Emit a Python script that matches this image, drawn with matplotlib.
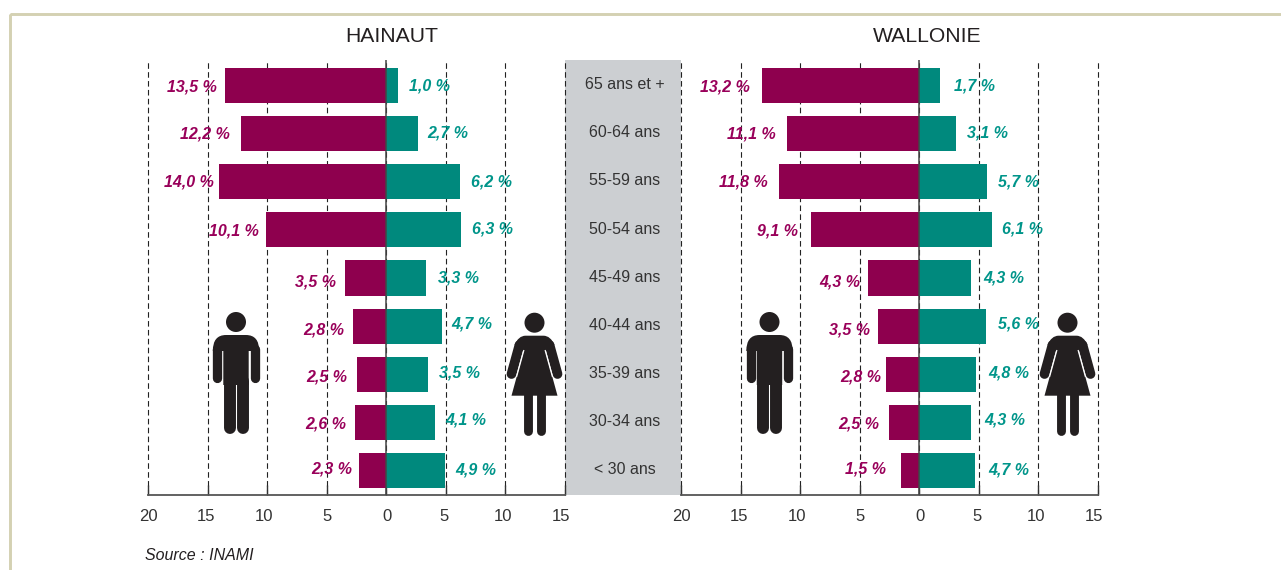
import matplotlib
matplotlib.use("Agg")
import matplotlib.pyplot as plt
from matplotlib.patches import Circle, PathPatch, Polygon, Rectangle
from matplotlib.path import Path
from matplotlib.transforms import ScaledTranslation

plt.rcParams['font.family'] = ['Liberation Sans', 'DejaVu Sans']

W, H = 1281, 570

ages = ["< 30 ans", "30-34 ans", "35-39 ans", "40-44 ans", "45-49 ans",
        "50-54 ans", "55-59 ans", "60-64 ans", "65 ans et +"]

# listed from the bottom bar to the top bar
hainaut_men = [2.3, 2.6, 2.5, 2.8, 3.5, 10.1, 14.0, 12.2, 13.5]
hainaut_women = [4.9, 4.1, 3.5, 4.7, 3.3, 6.3, 6.2, 2.7, 1.0]
wallonie_men = [1.5, 2.5, 2.8, 3.5, 4.3, 9.1, 11.8, 11.1, 13.2]
wallonie_women = [4.7, 4.3, 4.8, 5.6, 4.3, 6.1, 5.7, 3.1, 1.7]

ticks = [-20, -15, -10, -5, 0, 5, 10, 15]
tick_text = ["20", "15", "10", "5", "0", "5", "10", "15"]

# the label placement in the original is by hand, so gaps are per label (px)
hainaut_men_gap = [7, 9, 9, 9, 9, 7, 6, 11, 9]
hainaut_women_gap = [11, 10, 11, 9, 12, 11, 11, 9, 11]
wallonie_men_gap = [15, 10, 5, 8, 8, 13, 11, 11, 12]
wallonie_women_gap = [13, 14, 12, 12, 13, 10, 11, 11, 14]
men_dy = [-1, 2, 3, 4, 4, 1, 0, 0, 1.5]
women_dy = [0, -2, -1, -2, 0, -1, 0, -1, 0]
tick_nudge = [0, -2, -3, 0, 1, -2, -2, -4]

crimson = "#8E004E"
teal = "#00897D"
crimson_text = "#99005A"
teal_text = "#00958A"
dark = "#231F20"


def pixel_axes(left, right, top, bottom):
    return [left / W, 1 - bottom / H, (right - left) / W, (bottom - top) / H]


def draw_man(ax, cx):
    ax.add_patch(Circle((cx, 322), 10, color=dark, lw=0))
    verts = [(-23.2, 351), (-23.2, 335), (-10, 335), (10, 335), (23.2, 335), (23.2, 351),
             (12.7, 351), (12.7, 385), (-12.7, 385), (-12.7, 351), (-23.2, 351)]
    codes = [Path.MOVETO, Path.CURVE3, Path.CURVE3, Path.LINETO, Path.CURVE3, Path.CURVE3,
             Path.LINETO, Path.LINETO, Path.LINETO, Path.LINETO, Path.CLOSEPOLY]
    verts = [(cx + a, b) for a, b in verts]
    ax.add_patch(PathPatch(Path(verts, codes), color=dark, lw=0))
    for a in [-18.6, 18.6]:
        ax.plot([cx + a, cx + a], [349, 378], color=dark, lw=6.7, solid_capstyle='round')
    for a in [-6.5, 6.5]:
        ax.plot([cx + a, cx + a], [381, 428], color=dark, lw=8.6, solid_capstyle='round')


def draw_woman(ax, cx):
    ax.add_patch(Circle((cx, 322.7), 10, color=dark, lw=0))
    verts = [(-20, 345), (-16, 335.7), (-9, 335.7), (9, 335.7), (16, 335.7), (20, 345),
             (10.5, 352), (-10.5, 352), (-20, 345)]
    codes = [Path.MOVETO, Path.CURVE3, Path.CURVE3, Path.LINETO, Path.CURVE3, Path.CURVE3,
             Path.LINETO, Path.LINETO, Path.CLOSEPOLY]
    verts = [(cx + a, b) for a, b in verts]
    ax.add_patch(PathPatch(Path(verts, codes), color=dark, lw=0))
    dress = [(-10.5, 350), (10.5, 350), (23, 395.7), (-23, 395.7)]
    ax.add_patch(Polygon([(cx + a, b) for a, b in dress], color=dark, lw=0))
    for s in [-1, 1]:
        ax.plot([cx + s * 15, cx + s * 23], [345, 374], color=dark, lw=7, solid_capstyle='round')
        ax.plot([cx + s * 10.6, cx + s * 18], [350, 377], color="white", lw=0.9, solid_capstyle='butt')
    for a in [-6.2, 6.2]:
        ax.plot([cx + a, cx + a], [394, 430.5], color=dark, lw=6.4, solid_capstyle='round')


def pyramid(ax, men, women, men_gap, women_gap):
    y = list(range(len(ages)))
    ax.barh(y, [-v for v in men], height=0.73, color=crimson, zorder=2)
    ax.barh(y, women, height=0.73, color=teal, zorder=2)
    ax.axvline(0, color="#444444", lw=1.1, zorder=3)
    ax.set_xlim(-20, 15)
    ax.set_ylim(-0.51, 8.53)
    ax.set_yticks([])
    ax.set_xticks(ticks)
    ax.set_xticklabels(tick_text, fontsize=12, color="#333333")
    ax.grid(axis='x', color="#222222", lw=0.8, ls=(0, (5, 3)), zorder=1)
    for g in ax.get_xgridlines():
        g.set_clip_on(False)
    ax.tick_params(axis='x', direction='in', length=7.5, width=1, color="#333333", pad=10)
    for t, n in zip(ax.get_xticklabels(), tick_nudge):
        t.set_transform(t.get_transform() + ScaledTranslation(n / 100, 0, ax.figure.dpi_scale_trans))
    for s in ['top', 'left', 'right']:
        ax.spines[s].set_visible(False)
    ax.spines['bottom'].set_color("#555555")
    ax.spines['bottom'].set_linewidth(1.3)
    ax.patch.set_alpha(0)
    for i in y:
        ax.annotate(f"{men[i]:.1f} %".replace('.', ','), (-men[i], i),
                    xytext=(-men_gap[i], -men_dy[i]), textcoords='offset pixels',
                    ha='right', va='center', fontsize=11.5, fontweight='bold',
                    fontstyle='italic', color=crimson_text, zorder=4)
        ax.annotate(f"{women[i]:.1f} %".replace('.', ','), (women[i], i),
                    xytext=(women_gap[i], -women_dy[i]), textcoords='offset pixels',
                    ha='left', va='center', fontsize=11.5, fontweight='bold',
                    fontstyle='italic', color=teal_text, zorder=4)


fig = plt.figure(figsize=(W / 100, H / 100), dpi=100)

# background layer in pixel coordinates: frame, grey band, pictograms
bg = fig.add_axes([0, 0, 1, 1])
bg.set_xlim(0, W)
bg.set_ylim(H, 0)
bg.axis('off')
bg.add_patch(Rectangle((10, 14), 1400, 700, fill=False, ec="#D4D1B2", lw=2.1))
bg.add_patch(Rectangle((565, 60), 116, 435, color="#CCCFD2", lw=0))
draw_man(bg, 236)
draw_woman(bg, 534.5)
draw_man(bg, 769.5)
draw_woman(bg, 1067.5)

ax1 = fig.add_axes(pixel_axes(148, 565, 60, 495))
ax2 = fig.add_axes(pixel_axes(681, 1098, 60, 495))
pyramid(ax1, hainaut_men, hainaut_women, hainaut_men_gap, hainaut_women_gap)
pyramid(ax2, wallonie_men, wallonie_women, wallonie_men_gap, wallonie_women_gap)

for i, a in enumerate(ages):
    ax1.annotate(a, (20, i), xytext=(0, 0.8), textcoords='offset pixels', ha='center',
                 va='center', fontsize=11.5, color="#333333", annotation_clip=False)

fig.text(392 / W, 1 - 36 / H, "HAINAUT", fontsize=15.2, color=dark, ha='center', va='center')
fig.text(927 / W, 1 - 36 / H, "WALLONIE", fontsize=15.2, color=dark, ha='center', va='center')
fig.text(145 / W, 1 - 555 / H, "Source : INAMI", fontsize=11.5, fontstyle='italic', color=dark,
         ha='left', va='center')

fig.savefig("out.png", dpi=100)
